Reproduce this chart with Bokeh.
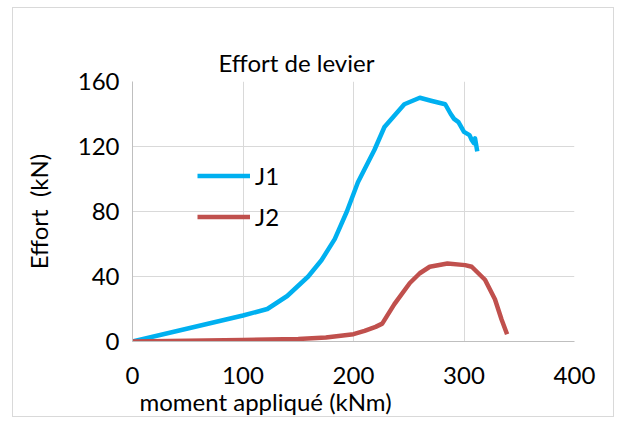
from bokeh.plotting import figure
from bokeh.models import Range1d, FixedTicker, Legend, LegendItem, Title, LinearAxis
from bokeh.embed import file_html
from bokeh.resources import INLINE

# data
j1_moment = [0, 50, 100, 122, 140, 159, 171, 183, 194, 204, 219, 228, 246, 260, 271, 283, 288, 291, 295, 300, 305, 307, 309, 310, 312]
j1_effort = [0, 8, 16, 20, 28, 40, 50, 63, 80, 98, 118, 132, 146, 150, 148, 146, 140, 137, 135, 129, 127, 124, 122, 125, 117]
j2_moment = [0, 50, 100, 150, 175, 200, 210, 220, 226, 237, 251, 260, 269, 285, 301, 307, 319, 328, 334, 339]
j2_effort = [0, 0.5, 1, 1.5, 2.5, 4.5, 6.5, 9, 11, 23, 36, 42, 46, 48, 47, 46, 38, 26, 13.5, 4.5]
x_ticks = [0, 100, 200, 300, 400]
y_ticks = [0, 40, 80, 120, 160]

FONT = "Lato"
FS = "24px"

p = figure(width=602, height=410, output_backend="svg", toolbar_location=None,
           x_range=Range1d(0, 400), y_range=Range1d(0, 160),
           min_border_left=119, min_border_right=41, min_border_top=73, min_border_bottom=77,
           styles={"margin-left": "12px", "margin-top": "7px", "border": "1px solid #d9d9d9"})

xaxis = p.below[0]
yaxis = p.left[0]

for ax in (xaxis, yaxis):
    ax.axis_line_color = "#bfbfbf"
    ax.major_tick_line_color = None
    ax.minor_tick_line_color = None
    ax.major_tick_out = 0
    ax.major_tick_in = 0
    ax.major_label_text_font = FONT
    ax.major_label_text_font_size = FS
    ax.major_label_text_color = "#000000"
    ax.axis_label_text_font = FONT
    ax.axis_label_text_font_size = FS
    ax.axis_label_text_font_style = "normal"
    ax.axis_label_text_color = "#000000"

xaxis.ticker = FixedTicker(ticks=x_ticks)
yaxis.ticker = FixedTicker(ticks=y_ticks)
xaxis.major_label_standoff = 25
yaxis.major_label_standoff = 13
yaxis.axis_label = "Effort\u00a0\u00a0(kN)"
yaxis.axis_label_standoff = 22

# invisible spacer axis between the frame and the title
spacer = LinearAxis(ticker=FixedTicker(ticks=[]), axis_line_color=None,
                    major_tick_line_color=None, minor_tick_line_color=None,
                    major_tick_out=29, major_tick_in=0, major_label_standoff=0,
                    major_label_text_font_size="1px")
p.add_layout(spacer, "above")
p.add_layout(Title(text="Effort de levier", align="left", offset=86, standoff=10,
                   text_font=FONT, text_font_size=FS, text_font_style="normal",
                   text_color="#000000"), "above")

p.outline_line_color = None
p.background_fill_color = "white"
p.border_fill_color = "white"

p.xgrid.grid_line_color = "#d9d9d9"
p.ygrid.grid_line_color = "#d9d9d9"

r1 = p.line(j1_moment, j1_effort, line_color="#00B0F0", line_width=4.5, line_join="round")
r2 = p.line(j2_moment, j2_effort, line_color="#C0504D", line_width=4.5, line_join="round")

legend = Legend(items=[LegendItem(label="J1", renderers=[r1]), LegendItem(label="J2", renderers=[r2])],
                location=(65, 110), background_fill_alpha=0, border_line_color=None,
                padding=0, margin=0, spacing=12, glyph_width=53, glyph_height=29,
                label_standoff=5, label_text_font=FONT, label_text_font_size=FS,
                label_text_color="#000000", label_height=29)
p.add_layout(legend)

xlabel = Title(text="moment appliqué (kNm)", align="left", offset=7, standoff=0, vertical_align="top",
               text_font=FONT, text_font_size=FS, text_font_style="normal", text_color="#000000")
p.add_layout(xlabel, "below")

open("out.html", "w").write(file_html(p, INLINE))
